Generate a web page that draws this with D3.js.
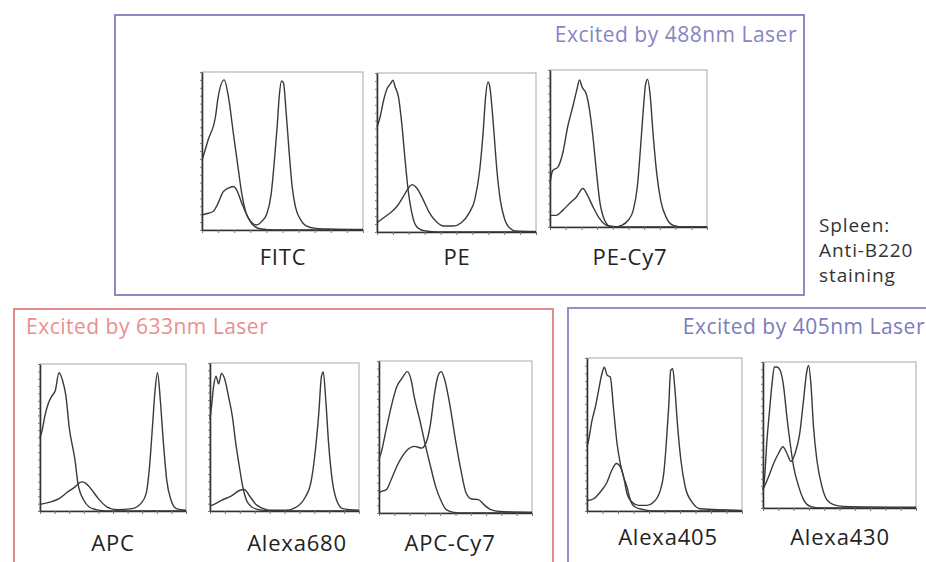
<!DOCTYPE html>
<html>
<head>
<meta charset="utf-8">
<script src="https://cdn.jsdelivr.net/npm/d3@7"></script>
<style>
  body { margin: 0; background: #fff; }
  text { font-family: "Open Sans", sans-serif; }
</style>
</head>
<body>
<div id="chart"></div>
<script>
// histogram curves, [channel %, count % of max]
var fitcControl = [[0,44],[3.8,57],[8.4,72],[10,84],[13.8,95],[16.3,85],[19.5,61],[22.6,38],[24.7,23],[26.8,12.7],[30,5.3],[33,2],[37,0.6],[45,0],[100,0]];
var fitcStained = [[0,9.5],[3.8,10.6],[6.9,11.7],[10,17],[13,24],[16.3,26.5],[19.5,27.5],[21.5,25.4],[24.7,17],[28.9,7.4],[32,3.8],[34,3.2],[37,5.3],[40.4,10.6],[43,23],[45,44.5],[46.7,65.7],[48,85],[49.4,94.3],[50.6,93],[52.3,74],[54,51],[56,27.5],[58,14.8],[61.3,6.4],[64.4,2.8],[70.7,1],[79,0.6],[100,0.3]];

var peControl = [[0,66],[2,72.5],[4.2,83],[6.25,90],[8.3,93],[10,95.4],[11.5,91],[13.5,85],[15.6,68],[17.7,45],[19.8,24.6],[21.9,12],[24,4.8],[27,1.7],[31,0.6],[38,0],[100,0]];
var peStained = [[0,5.8],[4.2,9],[8.3,12],[12.5,16],[16.7,22.5],[19.8,27.7],[21.9,29.8],[25,27.7],[29,20.4],[33,12],[37.5,6.25],[41.7,3.75],[48,3.75],[53,5.8],[58,12],[61.5,20.4],[64.6,39],[66.7,62],[68.3,85],[69.8,94.4],[71,91],[73.3,66],[75.4,39],[77.5,20.4],[80,9],[83.3,2.7],[87.5,0.6],[100,0.3]];

var pecy7Control = [[0,27.7],[1.7,36],[4.9,38],[8.1,47],[11.3,64],[14.5,76.6],[17,87],[18.8,93.6],[20.5,89],[23,85],[25.2,74.5],[27.4,57],[29.5,36],[31.6,17],[34.8,4.3],[38,0.6],[45,0],[100,0]];
var pecy7Stained = [[0,7.4],[3.8,7.4],[8.1,10.6],[12.4,15],[16.7,19],[21,24.5],[24,20],[27.4,12.8],[31.6,5.3],[36,1],[41,0],[45.5,1],[49.8,4.3],[53,10.6],[55.6,25.5],[57.7,51],[59.4,74.5],[61,91.5],[62.2,94],[63.7,85],[65.8,57.4],[68,34],[70.5,17],[74.4,5.3],[78.6,1],[85,0],[100,0]];

var apcControl = [[0,50],[1.5,55],[3.2,64],[5.6,73],[8,78],[10.5,82],[13,94],[15.4,89],[17.8,78],[20,57],[24,34.5],[26,18.6],[30,7.3],[33.7,2.7],[38.5,0.9],[45,0],[100,0]];
var apcStained = [[0,4.5],[6.8,6],[13,8.4],[19,13],[24,16.4],[28.3,19.8],[31.2,19],[35,15],[40,8.4],[46,2.7],[53,0.9],[63,1.6],[69,5],[72.7,11.8],[75,30],[77,57],[78.8,82],[80.5,94],[82.4,75.5],[84.4,48],[86.8,21],[89.8,7.3],[93.4,1.6],[100,0.5]];

var a680Control = [[0,62],[1,70.6],[2.4,84],[4,91],[5.8,86],[7.7,93],[10,88.7],[12.5,77],[15,64],[17.3,45.7],[19.7,30],[22,16.3],[24.5,7.2],[28,2.7],[33,0.9],[40,0],[100,0]];
var a680Stained = [[0,3.5],[1,3.8],[7.7,7.2],[15,10.6],[20,14],[23,14.5],[27,9.5],[31.6,3.8],[41,0.5],[51,0.5],[58,2.7],[64,9.5],[67.6,18.6],[70.5,39],[73,66],[74.8,91],[76,94],[77.7,75],[79.6,45.7],[82,21],[85,7.2],[89,1.6],[100,0.5]];

var apccy7Control = [[0,36],[1.2,39],[4.7,55],[8,70],[11.6,83],[15,88.6],[18.6,93],[21,87.5],[23,76.6],[26.7,61],[30,46],[33.7,30.6],[37,17.5],[40.7,7.7],[44,2.2],[49,0.4],[55,0],[100,0]];
var apccy7Stained = [[0,13],[1.2,14],[4.7,15.3],[8,22],[11.6,30.6],[15,37],[18.6,41.6],[23,43.8],[28,42.7],[31.4,48],[33.7,59],[36,76.6],[38.4,89.7],[40.7,93],[43,87.5],[46.5,70],[50,48],[53.5,28.4],[57,13],[60.5,9.2],[65,8.8],[68.6,5.5],[73,2.2],[79,1],[100,0.5]];

var a405Control = [[0,42],[1,46],[3.2,59],[5.4,68],[7.5,79],[9.7,90],[11.2,94],[13,88.7],[15,87.6],[17.2,66],[19.4,44],[21.5,31],[23.7,22],[25.8,15.7],[28,7],[31,2.6],[36.6,0.9],[42,0],[100,0]];
var a405Stained = [[0,7],[1,7],[4.3,8],[8.6,12.4],[13,19],[16,26.6],[19,31],[21.5,28.8],[23.7,22],[25.8,11.3],[29,5.9],[33.3,3.7],[38.7,3.7],[43,5.9],[47.3,13.5],[49.5,24.4],[51,42],[52.7,68],[54,92],[55.3,93],[56.6,81],[58.5,55],[60.6,33],[63.4,15.7],[67.7,5.9],[73,1.5],[100,0.4]];

var a430Control = [[0,12],[0.9,19],[2.6,46.6],[4.3,67],[5.9,85],[7.4,96.6],[9,96.6],[11.3,94],[13.5,83],[15.6,62.5],[17.8,44],[20,28.4],[23.3,14.8],[26.5,5.7],[31,1.1],[38,0],[100,0]];
var a430Stained = [[0,13],[0.9,14.8],[3.7,21.6],[7,30.7],[10.2,37.5],[13,42],[15.6,37.5],[18.3,31.8],[21,37.5],[24,51],[26.5,74],[28.7,94],[29.8,97.7],[31.3,85],[33,55.7],[35.2,33],[38.5,14.8],[41.7,5.7],[46,2.3],[52.6,1.1],[100,0.5]];

var plotLabels = ["FITC","PE","PE-Cy7","APC","Alexa680","APC-Cy7","Alexa405","Alexa430"];
var groupTitles = ["Excited by 488nm Laser","Excited by 633nm Laser","Excited by 405nm Laser"];
var noteLines = ["Spleen:","Anti-B220","staining"];

var W = 926, H = 562;
var svg = d3.select("#chart").append("svg").attr("width", W).attr("height", H);

// group boxes
var boxes = [
  {x:115, y:15, w:689, h:280, color:"#8a8ac6", tx:797, ty:42, anchor:"end", tcolor:"#8686c2"},
  {x:14, y:309, w:539, h:270, color:"#e08c8c", tx:26, ty:334, anchor:"start", tcolor:"#ea8e8e"},
  {x:568, y:308, w:380, h:270, color:"#9090cc", tx:925, ty:334, anchor:"end", tcolor:"#7c7cbc"}
];
boxes.forEach(function(b, i) {
  svg.append("rect")
    .attr("x", b.x).attr("y", b.y).attr("width", b.w).attr("height", b.h)
    .attr("fill", "none").attr("stroke", b.color).attr("stroke-width", 2);
  svg.append("text")
    .attr("x", b.tx).attr("y", b.ty)
    .attr("text-anchor", b.anchor)
    .attr("fill", b.tcolor)
    .style("font-size", "21px")
    .style("letter-spacing", "0.5px")
    .text(groupTitles[i]);
});

var panels = [
  {ctrl:fitcControl, stain:fitcStained, x:202, y:72, w:161, h:158, lx:283, ly:265},
  {ctrl:peControl, stain:peStained, x:377, y:73, w:159, h:159, lx:457, ly:265},
  {ctrl:pecy7Control, stain:pecy7Stained, x:550, y:70, w:157, h:157, lx:630, ly:265},
  {ctrl:apcControl, stain:apcStained, x:40, y:364, w:146, h:147, lx:113, ly:551},
  {ctrl:a680Control, stain:a680Stained, x:210, y:363, w:149, h:148, lx:297, ly:551},
  {ctrl:apccy7Control, stain:apccy7Stained, x:379, y:361, w:153, h:152, lx:450, ly:551},
  {ctrl:a405Control, stain:a405Stained, x:587, y:358, w:155, h:153, lx:668, ly:545},
  {ctrl:a430Control, stain:a430Stained, x:763, y:362, w:153, h:146, lx:840, ly:545}
];

panels.forEach(function(p, i) {
  var g = svg.append("g").attr("transform", "translate(" + p.x + "," + p.y + ")");
  var x = d3.scaleLinear().domain([0, 100]).range([0, p.w]);
  var y = d3.scaleLinear().domain([0, 100]).range([p.h, 0]);

  g.append("rect")
    .attr("width", p.w).attr("height", p.h)
    .attr("fill", "none").attr("stroke", "#a8a8a8").attr("stroke-width", 1);

  var line = d3.line()
    .x(function(d) { return x(d[0]); })
    .y(function(d) { return y(d[1]); })
    .curve(d3.curveMonotoneX);

  [p.ctrl, p.stain].forEach(function(series) {
    g.append("path")
      .datum(series)
      .attr("d", line)
      .attr("fill", "none")
      .attr("stroke", "#3a3a3a")
      .attr("stroke-width", 1.4);
  });

  var ax = g.append("g").attr("transform", "translate(0," + p.h + ")")
    .call(d3.axisBottom(x).ticks(10).tickSize(3).tickSizeOuter(0).tickFormat(""));
  var ay = g.append("g")
    .call(d3.axisLeft(y).ticks(20).tickSize(2).tickSizeOuter(0).tickFormat(""));
  [ax, ay].forEach(function(a) {
    a.select(".domain").attr("stroke", "#333").attr("stroke-width", 1.6);
    a.selectAll(".tick line").attr("stroke", "#777");
  });

  svg.append("text")
    .attr("x", p.lx).attr("y", p.ly)
    .attr("text-anchor", "middle")
    .attr("fill", "#222")
    .style("font-size", "22px")
    .style("letter-spacing", "0.8px")
    .text(plotLabels[i]);
});

svg.selectAll(".note")
  .data(noteLines)
  .enter()
  .append("text")
  .attr("class", "note")
  .attr("x", 819)
  .attr("y", function(d, i) { return 232 + i * 25; })
  .attr("fill", "#333")
  .style("font-size", "19px")
  .style("letter-spacing", "0.9px")
  .text(function(d) { return d; });
</script>
</body>
</html>
